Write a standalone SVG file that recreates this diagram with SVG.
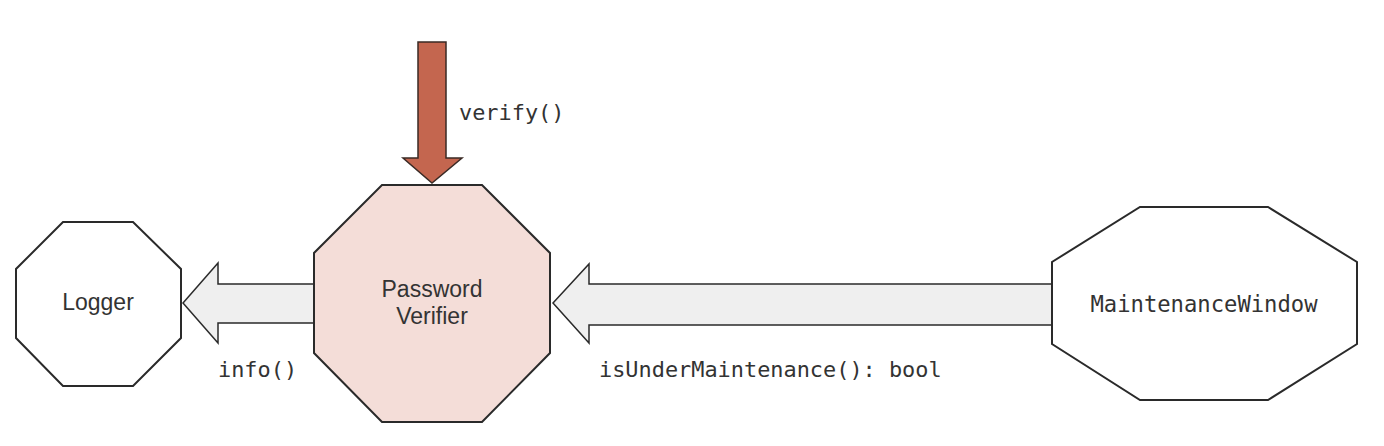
<svg xmlns="http://www.w3.org/2000/svg" width="1384" height="446" viewBox="0 0 1384 446">
<style>
.node{stroke:#2a2a2a;stroke-width:2;stroke-linejoin:miter}
.white{fill:#ffffff}
.pink{fill:#f4ddd8}
.conn{fill:#efefef;stroke:#2a2a2a;stroke-width:1.5;stroke-linejoin:miter}
.call{fill:#c4664f;stroke:#3a2a25;stroke-width:1.5}
.sans{font-family:"Liberation Sans",Arial,sans-serif;font-size:23px;fill:#333333;text-anchor:middle}
.mono{font-family:"DejaVu Sans Mono","Liberation Mono",monospace;font-size:21.9px;fill:#333333}
</style>
<rect width="1384" height="446" fill="#ffffff"/>
<g id="connectors">
<polygon class="conn" points="314,284 218,284 218,263 183,303 218,343 218,323 314,323"/>
<polygon class="conn" points="1052,284 589,284 589,264 553,303 589,343 589,325 1052,325"/>
<polygon class="call" points="418,42 446,42 446,158 462,158 432,183 403,158 418,158"/>
<text class="mono" x="459" y="120">verify()</text>
<text class="mono" x="218" y="377">info()</text>
<text class="mono" x="599" y="377">isUnderMaintenance(): bool</text>
</g>
<g id="logger">
<polygon class="node white" points="63,222 133,222 181,269 181,338 133,386 63,386 16,338 16,269"/>
<text class="sans" x="98" y="310">Logger</text>
</g>
<g id="password-verifier">
<polygon class="node pink" points="382,185 482,185 550,253 550,353 482,422 382,422 314,353 314,253"/>
<text class="sans" x="432" y="297">Password</text>
<text class="sans" x="432" y="324">Verifier</text>
</g>
<g id="maintenance-window">
<polygon class="node white" points="1140,207 1268,207 1357,262 1357,344 1268,400 1140,400 1052,344 1052,262"/>
<text class="mono" x="1204" y="312" text-anchor="middle" style="font-size:22.2px">MaintenanceWindow</text>
</g>
</svg>
